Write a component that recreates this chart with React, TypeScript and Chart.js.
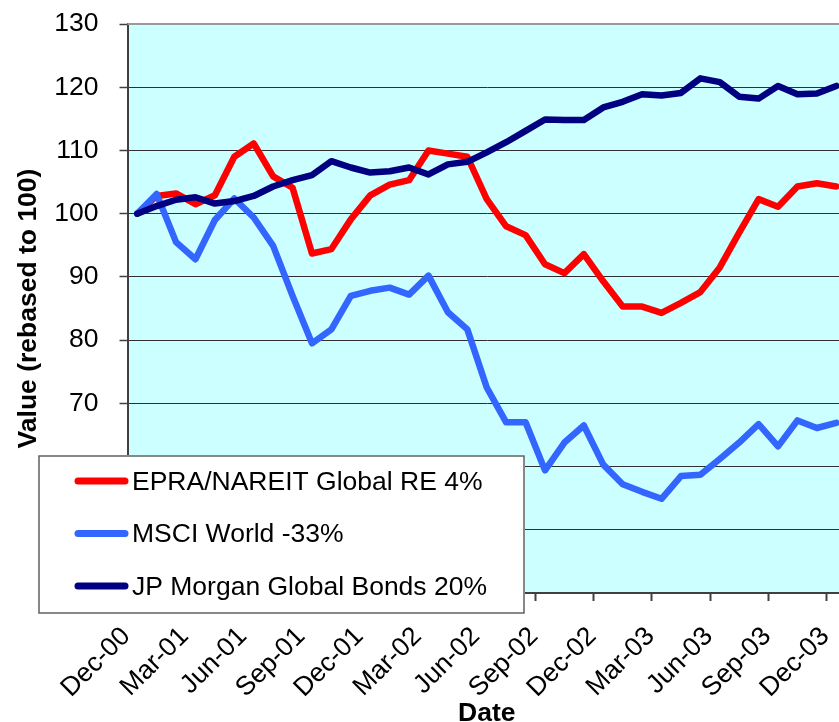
import React, { useEffect, useRef } from 'react';
import { Chart, registerables } from 'chart.js';

Chart.register(...registerables);

const categories = [
  'Dec-00', 'Jan-01', 'Feb-01', 'Mar-01', 'Apr-01', 'May-01', 'Jun-01', 'Jul-01', 'Aug-01', 'Sep-01', 'Oct-01', 'Nov-01',
  'Dec-01', 'Jan-02', 'Feb-02', 'Mar-02', 'Apr-02', 'May-02', 'Jun-02', 'Jul-02', 'Aug-02', 'Sep-02', 'Oct-02', 'Nov-02',
  'Dec-02', 'Jan-03', 'Feb-03', 'Mar-03', 'Apr-03', 'May-03', 'Jun-03', 'Jul-03', 'Aug-03', 'Sep-03', 'Oct-03', 'Nov-03',
  'Dec-03',
];

const epraValues = [
  100, 102.8, 103.2, 101.5, 102.9, 109.0, 111.1, 105.9, 104.1, 93.7, 94.4, 99.1,
  102.9, 104.6, 105.3, 110.0, 109.5, 109.0, 102.3, 98.0, 96.6, 92.0, 90.6, 93.6,
  89.3, 85.3, 85.3, 84.3, 85.9, 87.6, 91.5, 97.0, 102.3, 101.1, 104.3, 104.8,
  104.3,
];

const msciValues = [
  100, 103.1, 95.5, 92.8, 99.0, 102.4, 99.4, 94.9, 87.0, 79.5, 81.7, 87.0,
  87.8, 88.3, 87.2, 90.2, 84.4, 81.7, 72.5, 67.0, 67.0, 59.4, 63.8, 66.5,
  60.3, 57.2, 56.0, 54.9, 58.5, 58.7, 61.2, 63.8, 66.7, 63.2, 67.3, 66.1,
  66.9,
];

const jpmValues = [
  100, 101.2, 102.2, 102.6, 101.6, 102.0, 102.8, 104.3, 105.3, 106.1, 108.3, 107.3,
  106.5, 106.7, 107.3, 106.2, 107.8, 108.2, 109.7, 111.3, 113.1, 114.9, 114.8, 114.8,
  116.8, 117.7, 118.9, 118.7, 119.1, 121.4, 120.8, 118.5, 118.2, 120.2, 118.9, 119.0,
  120.2,
];

const seriesLabels = ['EPRA/NAREIT Global RE 4%', 'MSCI World -33%', 'JP Morgan Global Bonds 20%'];

const FONT = "'Liberation Sans', Arial, sans-serif";
const FS = 26.5;

const plotBgPlugin = {
  id: 'plotBg',
  beforeDraw(chart: any) {
    const { ctx, chartArea } = chart;
    ctx.save();
    ctx.fillStyle = '#CCFFFF';
    ctx.fillRect(chartArea.left, chartArea.top, chartArea.right - chartArea.left, chartArea.bottom - chartArea.top);
    ctx.restore();
  },
  beforeDatasetsDraw(chart: any) {
    const { ctx, chartArea } = chart;
    ctx.save();
    ctx.strokeStyle = '#999999';
    ctx.lineWidth = 2;
    ctx.beginPath();
    ctx.moveTo(chartArea.left, chartArea.top);
    ctx.lineTo(chartArea.right, chartArea.top);
    ctx.stroke();
    ctx.restore();
  },
};

const legendPlugin = {
  id: 'boxLegend',
  afterDraw(chart: any) {
    const { ctx } = chart;
    const box = { x: 39, y: 456, w: 485, h: 157 };
    ctx.save();
    ctx.fillStyle = '#ffffff';
    ctx.fillRect(box.x - 1, box.y - 1, box.w + 2, box.h + 2);
    ctx.strokeStyle = '#606060';
    ctx.lineWidth = 1.5;
    ctx.strokeRect(box.x, box.y, box.w, box.h);
    const rowY = [481, 533.5, 586];
    chart.data.datasets.forEach((ds: any, i: number) => {
      const y = rowY[i];
      ctx.strokeStyle = ds.borderColor;
      ctx.lineWidth = 7;
      ctx.lineCap = 'round';
      ctx.beginPath();
      ctx.moveTo(78, y);
      ctx.lineTo(125, y);
      ctx.stroke();
      ctx.fillStyle = '#000000';
      ctx.font = `${FS}px ${FONT}`;
      ctx.textBaseline = 'middle';
      ctx.textAlign = 'left';
      ctx.fillText(ds.label, 132, y + 1.5);
    });
    ctx.restore();
  },
};

export default function App() {
  const canvasRef = useRef<HTMLCanvasElement | null>(null);

  useEffect(() => {
    if (!canvasRef.current) return;
    const lineStyle = {
      borderWidth: 6.5,
      pointRadius: 0,
      pointHoverRadius: 0,
      tension: 0,
      fill: false,
      borderJoinStyle: 'round' as const,
      borderCapStyle: 'round' as const,
    };
    const chart = new Chart(canvasRef.current, {
      type: 'line',
      data: {
        labels: categories,
        datasets: [
          { label: seriesLabels[0], data: epraValues, borderColor: '#FF0000', backgroundColor: '#FF0000', order: 3, ...lineStyle },
          { label: seriesLabels[1], data: msciValues, borderColor: '#3366FF', backgroundColor: '#3366FF', order: 2, ...lineStyle },
          { label: seriesLabels[2], data: jpmValues, borderColor: '#000080', backgroundColor: '#000080', order: 1, ...lineStyle },
        ],
      },
      options: {
        animation: false,
        responsive: false,
        devicePixelRatio: 1,
        layout: { padding: { top: 24, right: 24, left: 0, bottom: 0 } },
        plugins: {
          legend: { display: false },
          tooltip: { enabled: false },
        },
        scales: {
          x: {
            type: 'category',
            offset: true,
            grid: {
              offset: true,
              drawOnChartArea: false,
              drawTicks: true,
              tickLength: 8,
              tickWidth: 2,
              tickColor: (c: any) => (c.index % 3 === 0 ? '#404040' : 'rgba(0,0,0,0)'),
            },
            border: { color: '#404040', width: 2 },
            ticks: {
              autoSkip: false,
              maxRotation: 45,
              minRotation: 45,
              padding: 20,
              labelOffset: -11,
              color: '#000000',
              font: { family: FONT, size: FS },
              callback: (_v: any, i: number) => (i % 3 === 0 ? categories[i] : ''),
            },
            title: {
              display: true,
              text: 'Date',
              color: '#000000',
              font: { family: FONT, size: FS, weight: 'bold' },
              padding: { top: 0, bottom: 0 },
            },
            afterFit: (s: any) => {
              s.height = 137;
              s.paddingLeft = 0;
              s.paddingRight = 0;
            },
          },
          y: {
            min: 40,
            max: 130,
            grid: {
              color: '#303030',
              lineWidth: 1,
              tickLength: 8,
              tickColor: '#404040',
              tickWidth: 1.5,
            },
            border: { color: '#404040', width: 2 },
            ticks: {
              stepSize: 10,
              padding: 21,
              color: '#000000',
              font: { family: FONT, size: FS },
            },
            title: {
              display: true,
              text: 'Value (rebased to 100)',
              color: '#000000',
              font: { family: FONT, size: FS, weight: 'bold' },
              padding: { top: 13, bottom: 0 },
            },
            afterFit: (s: any) => {
              s.width = 127.5;
              s.paddingTop = 0;
              s.paddingBottom = 0;
            },
          },
        },
      } as any,
      plugins: [plotBgPlugin, legendPlugin],
    });
    return () => chart.destroy();
  }, []);

  return (
    <div style={{ position: 'absolute', left: 0, top: 0, width: 839, height: 722, overflow: 'hidden', background: '#ffffff' }}>
      <canvas ref={canvasRef} width={870} height={730} style={{ display: 'block' }} />
    </div>
  );
}
